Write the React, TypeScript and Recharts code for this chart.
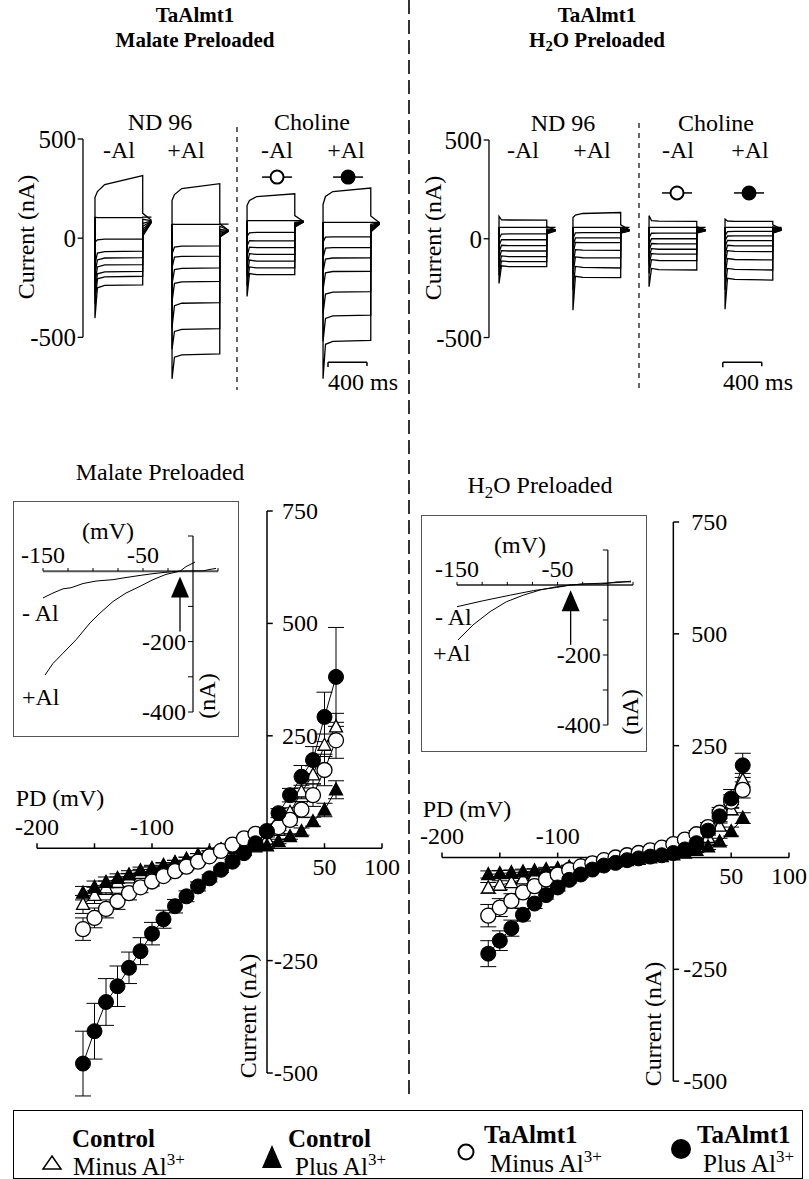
import React from "react";
import {
  LineChart,
  Line,
  ScatterChart,
  Scatter,
  XAxis,
  YAxis,
  ErrorBar,
  ReferenceLine,
  ReferenceDot,
} from "recharts";

const FONT = '"Liberation Serif", "Times New Roman", Times, serif';

// ---------- I/V curves (mV -> nA) ----------
const voltages = [-160, -150, -140, -130, -120, -110, -100, -90, -80, -70, -60, -50, -40, -30, -20, -10, 0, 10, 20, 30, 40, 50, 60];

// malate preloaded
const malCtrlMinus = [-125, -105, -88, -76, -66, -56, -48, -40, -33, -25, -17, -10, -3, 3, 8, 12, 20, 40, 80, 125, 163, 229, 270];
const malCtrlMinusErr = [20, 18, 15, 12, 10, 9, 8, 7, 6, 5, 5, 4, 4, 4, 4, 4, 5, 8, 10, 15, 20, 25, 30];
const malCtrlPlus = [-100, -87, -76, -67, -59, -50, -45, -38, -32, -25, -16, -10, -5, -1, 2, 3, 5, 15, 26, 37, 59, 85, 130];
const malCtrlPlusErr = [15, 14, 12, 10, 9, 8, 7, 6, 5, 5, 4, 4, 4, 4, 4, 4, 4, 5, 6, 8, 10, 15, 20];
const malAlmtMinus = [-180, -155, -135, -118, -100, -87, -74, -62, -51, -41, -30, -18, -6, 8, 22, 32, 38, 47, 63, 86, 118, 174, 240];
const malAlmtMinusErr = [25, 22, 20, 18, 15, 12, 10, 8, 7, 6, 5, 5, 4, 4, 4, 4, 5, 8, 12, 18, 25, 35, 40];
const malAlmtPlus = [-479, -407, -342, -307, -266, -229, -190, -158, -129, -107, -85, -67, -48, -30, -11, 11, 37, 78, 118, 159, 196, 292, 381];
const malAlmtPlusErr = [72, 62, 52, 45, 35, 30, 25, 20, 15, 12, 10, 8, 6, 5, 5, 5, 6, 10, 15, 25, 30, 55, 110];

// H2O preloaded
const h2oCtrlMinus = [-68, -62, -56, -48, -40, -33, -27, -22, -17, -13, -9, -5, -2, 1, 4, 8, 12, 20, 30, 45, 70, 107, 173];
const h2oCtrlMinusErr = [12, 10, 9, 8, 7, 6, 5, 5, 4, 4, 4, 4, 4, 4, 4, 4, 4, 5, 6, 8, 10, 12, 15];
const h2oCtrlPlus = [-38, -36, -34, -32, -30, -27, -25, -22, -19, -16, -13, -10, -7, -4, -1, 2, 6, 10, 16, 24, 35, 58, 88];
const h2oCtrlPlusErr = [8, 7, 6, 6, 5, 5, 4, 4, 4, 4, 4, 4, 4, 4, 4, 4, 4, 4, 5, 6, 8, 10, 12];
const h2oAlmtMinus = [-130, -112, -97, -78, -64, -49, -38, -28, -20, -13, -6, 0, 5, 10, 16, 22, 30, 40, 52, 68, 100, 125, 151];
const h2oAlmtMinusErr = [25, 20, 16, 13, 10, 8, 7, 6, 5, 5, 4, 4, 4, 4, 4, 4, 5, 6, 8, 10, 12, 15, 18];
const h2oAlmtPlus = [-215, -186, -158, -128, -103, -84, -67, -50, -38, -27, -18, -12, -6, -2, 2, 5, 10, 18, 32, 60, 92, 132, 206];
const h2oAlmtPlusErr = [29, 22, 18, 14, 11, 9, 8, 7, 6, 5, 5, 4, 4, 4, 4, 4, 5, 6, 8, 10, 15, 20, 27];

const ivXTicks = [-200, -150, -100, -50, 50, 100];
const ivXLabels = [-200, -100, 50, 100];
const ivYTicks = [750, 500, 250, -250, -500];

// ---------- inset I/V traces ----------
const leftInsetMinusV = [-150, -140, -130, -122, -110, -97, -80, -67, -53, -40, -27, -13, 0, 10, 17, 23];
const leftInsetMinusI = [-76, -62, -50, -47, -35, -28, -24, -18, -12, -7, -3, 0, 1, 1, 5, 8];
const leftInsetPlusV = [-148, -140, -130, -117, -103, -93, -80, -67, -53, -40, -27, -13, -7, 2];
const leftInsetPlusI = [-295, -262, -233, -195, -147, -119, -86, -62, -43, -24, -9, 0, 13, 26];
const rightInsetMinusV = [-150, -124, -97, -74, -51, -37, -24, -7, 0, 9, 23];
const rightInsetMinusI = [-62, -45, -29, -16, -7, 0, 3, 3, 5, 9, 9];
const rightInsetPlusV = [-149, -134, -117, -101, -84, -67, -51, -37, -24, -7, 10, 23];
const rightInsetPlusI = [-157, -114, -76, -48, -29, -14, -5, 0, 3, 5, 7, 11];

const insetXTicks = [-150, -125, -100, -75, -50, -25, 25];
const insetXLabels = [-150, -50];
const insetYTicks = [100, -100, -200, -300, -400];
const insetYLabels = [-200, -400];

// ---------- current traces (nA at 0, 25, 100, 490 ms of each step) ----------
const traceTimes = [0, 25, 100, 490];
const tailTime = 580;
const traceYTicks = [500, 0, -500];

const malateStarts = [123, 914, 1684, 2464];
const malateHolds = [106, 71, 88, 80];
const malNd96Minus = [
  [205, 235, 270, 315], [106, 104, 104, 104], [-20, -8, -5, -5], [-130, -75, -68, -65], [-180, -110, -100, -98],
  [-230, -145, -135, -133], [-280, -180, -170, -167], [-330, -205, -195, -192], [-403, -250, -238, -235],
];
const malNd96MinusTails = [[125, 90], [106, 106], [95, 88], [75, 86], [60, 85], [45, 84], [32, 83], [20, 82], [10, 80]];
const malNd96Plus = [
  [190, 220, 250, 275], [71, 70, 70, 70], [-80, -45, -40, -39], [-150, -95, -92, -90], [-230, -158, -152, -150],
  [-320, -228, -220, -218], [-450, -340, -328, -325], [-560, -470, -460, -456], [-709, -600, -588, -583],
];
const malNd96PlusTails = [[72, 40], [71, 71], [60, 40], [45, 38], [35, 37], [25, 36], [18, 36], [10, 35], [5, 35]];
const malChoMinus = [
  [165, 190, 210, 224], [88, 88, 88, 88], [10, 27, 29, 29], [-40, -12, -14, -14], [-90, -45, -48, -48],
  [-140, -78, -82, -82], [-190, -110, -116, -116], [-240, -145, -150, -150], [-294, -178, -184, -184],
];
const malChoMinusTails = [[114, 84], [88, 88], [80, 84], [75, 83], [70, 83], [65, 82], [62, 82], [58, 82], [56, 82]];
const malChoPlus = [
  [170, 210, 235, 253], [80, 80, 80, 80], [-20, 5, 7, 7], [-100, -50, -48, -48], [-170, -105, -100, -99],
  [-260, -175, -168, -167], [-380, -282, -272, -269], [-520, -405, -392, -388], [-709, -535, -520, -515],
];
const malChoPlusTails = [[112, 78], [80, 80], [70, 77], [62, 76], [55, 75], [48, 74], [42, 73], [36, 72], [31, 70]];

const h2oStarts = [103, 862, 1643, 2423];
const h2oHolds = [58, 58, 58, 58];
const h2oNd96Minus = [
  [114, 96, 95, 94], [58, 58, 58, 58], [0, 24, 25, 25], [-35, -4, -5, -5], [-70, -33, -35, -35],
  [-105, -60, -62, -62], [-145, -87, -90, -90], [-185, -112, -116, -116], [-226, -137, -141, -141],
];
const h2oNd96MinusTails = [[61, 45], [58, 58], [50, 45], [45, 44], [40, 43], [35, 42], [30, 41], [28, 40], [25, 40]];
const h2oNd96Plus = [
  [107, 120, 128, 133], [58, 58, 58, 58], [0, 30, 31, 31], [-40, 4, 5, 5], [-80, -18, -20, -20],
  [-130, -55, -58, -59], [-180, -92, -96, -97], [-260, -140, -145, -148], [-362, -190, -195, -197],
];
const h2oNd96PlusTails = [[70, 45], [58, 58], [55, 45], [50, 44], [45, 43], [40, 42], [35, 41], [30, 40], [28, 40]];
const h2oChoMinus = [
  [117, 92, 89, 88], [58, 58, 58, 58], [5, 28, 29, 29], [-30, 0, 0, 0], [-60, -24, -26, -26],
  [-95, -50, -53, -53], [-130, -75, -78, -78], [-175, -106, -110, -111], [-243, -150, -156, -158],
];
const h2oChoMinusTails = [[62, 45], [58, 58], [55, 45], [50, 44], [45, 43], [40, 42], [36, 41], [32, 40], [28, 40]];
const h2oChoPlus = [
  [100, 90, 88, 88], [58, 58, 58, 58], [15, 36, 37, 37], [-10, 14, 15, 15], [-40, -8, -9, -9],
  [-80, -33, -36, -36], [-130, -60, -64, -65], [-190, -100, -105, -107], [-260, -150, -155, -158], [-357, -200, -206, -209],
];
const h2oChoPlusTails = [[70, 50], [58, 58], [60, 50], [55, 49], [50, 48], [45, 47], [40, 46], [35, 45], [30, 44], [28, 44]];

// choline symbols over the traces and the 400 ms scale bar
const malateMarkers = [{ t: 1992, i: 308, filled: false }, { t: 2721, i: 308, filled: true }];
const h2oMarkers = [{ t: 1930, i: 232, filled: false }, { t: 2669, i: 232, filled: true }];
const malateBar = [2515, 2915];
const h2oBar = [2400, 2800];

// ---------- helpers ----------
function ivRows(ys: number[], es: number[]) {
  return voltages.map((v, k) => ({ v, i: ys[k], e: es[k] }));
}

function curveRows(vs: number[], is: number[]) {
  return vs.map((v, k) => ({ v, i: is[k] }));
}

function traceRows(start: number, hold: number, vals: number[], tail: number[]) {
  const rows = [{ t: start, i: hold }];
  traceTimes.forEach((dt, k) => rows.push({ t: start + dt, i: vals[k] }));
  rows.push({ t: start + traceTimes[traceTimes.length - 1], i: tail[0] });
  rows.push({ t: start + tailTime, i: tail[1] });
  return rows;
}

const openTri = (p: any) => (
  <polygon points={`${p.cx},${p.cy - 7} ${p.cx + 6.5},${p.cy + 5} ${p.cx - 6.5},${p.cy + 5}`} fill="#fff" stroke="#000" strokeWidth={1.3} />
);
const fillTri = (p: any) => (
  <polygon points={`${p.cx},${p.cy - 7} ${p.cx + 6.5},${p.cy + 5} ${p.cx - 6.5},${p.cy + 5}`} fill="#000" stroke="#000" strokeWidth={1.3} />
);
const openCirc = (p: any) => <circle cx={p.cx} cy={p.cy} r={7.5} fill="#fff" stroke="#000" strokeWidth={1.3} />;
const fillCirc = (p: any) => <circle cx={p.cx} cy={p.cy} r={7.5} fill="#000" stroke="#000" strokeWidth={1} />;

function Txt({ x, y, children, size = 24, bold = false, anchor = "center", rotate = 0 }: any) {
  const tx = anchor === "center" ? "-50%" : anchor === "end" ? "-100%" : "0";
  return (
    <div
      style={{
        position: "absolute",
        left: x,
        top: y,
        transform: `translate(${tx}, -50%) rotate(${rotate}deg)`,
        fontSize: size,
        fontWeight: bold ? 700 : 400,
        whiteSpace: "nowrap",
        lineHeight: 1,
      }}
    >
      {children}
    </div>
  );
}

const tickText = (label: string | number, dx: number, dy: number, anchor: string, size: number) => (p: any) => (
  <text x={p.cx + dx} y={p.cy + dy} textAnchor={anchor} fontSize={size} fontFamily={FONT} fill="#000">
    {label}
  </text>
);

function ivAxisParts(yLabelDx: number) {
  const parts: React.ReactElement[] = [
    <ReferenceLine key="xa" y={0} stroke="#000" strokeWidth={1.5} />,
    <ReferenceLine key="ya" segment={[{ x: 0, y: -500 }, { x: 0, y: 750 }]} stroke="#000" strokeWidth={1.5} />,
  ];
  ivXTicks.forEach((v) =>
    parts.push(<ReferenceLine key={`xt${v}`} segment={[{ x: v, y: 0 }, { x: v, y: 11 }]} stroke="#000" strokeWidth={1.5} />)
  );
  ivYTicks.forEach((v) =>
    parts.push(<ReferenceLine key={`yt${v}`} segment={[{ x: 0, y: v }, { x: 5, y: v }]} stroke="#000" strokeWidth={1.5} />)
  );
  ivXLabels.forEach((v) =>
    parts.push(
      <ReferenceDot key={`xl${v}`} x={v} y={0} r={1} shape={tickText(v, 0, v < 0 ? -13 : 27, "middle", 24)} />
    )
  );
  ivYTicks.forEach((v) =>
    parts.push(<ReferenceDot key={`yl${v}`} x={0} y={v} r={1} shape={tickText(v, yLabelDx, 8, "end", 24)} />)
  );
  return parts;
}

function IvChart({ left, top, width, height, margin, yLabelDx, sets }: any) {
  return (
    <div style={{ position: "absolute", left, top }}>
      <ScatterChart width={width} height={height} margin={margin}>
        <XAxis type="number" dataKey="v" domain={[-200, 100]} hide />
        <YAxis type="number" dataKey="i" domain={[-560, 750]} hide />
        {ivAxisParts(yLabelDx)}
        {sets.map((s: any) => (
          <Scatter
            key={s.name}
            name={s.name}
            data={s.data}
            shape={s.shape}
            line={{ stroke: "#000", strokeWidth: 1 }}
            isAnimationActive={false}
          >
            <ErrorBar dataKey="e" direction="y" width={8} stroke="#000" strokeWidth={1} />
          </Scatter>
        ))}
      </ScatterChart>
    </div>
  );
}

function insetParts(arrowV: number) {
  const parts: React.ReactElement[] = [
    <ReferenceLine key="xa" y={0} stroke="#555" strokeWidth={2} />,
    <ReferenceLine key="ya" x={0} stroke="#000" strokeWidth={1.2} />,
  ];
  insetXTicks.forEach((v) =>
    parts.push(<ReferenceLine key={`xt${v}`} segment={[{ x: v, y: 0 }, { x: v, y: 9 }]} stroke="#000" strokeWidth={1} />)
  );
  insetYTicks.forEach((v) =>
    parts.push(<ReferenceLine key={`yt${v}`} segment={[{ x: -5, y: v }, { x: 0, y: v }]} stroke="#000" strokeWidth={1} />)
  );
  insetXLabels.forEach((v) =>
    parts.push(<ReferenceDot key={`xl${v}`} x={v} y={0} r={1} shape={tickText(v, 0, -8, "middle", 24)} />)
  );
  insetYLabels.forEach((v) =>
    parts.push(<ReferenceDot key={`yl${v}`} x={0} y={v} r={1} shape={tickText(v, -7, 8, "end", 24)} />)
  );
  parts.push(
    <ReferenceLine key="shaft" segment={[{ x: arrowV, y: -171 }, { x: arrowV, y: -60 }]} stroke="#000" strokeWidth={1.3} />
  );
  parts.push(
    <ReferenceDot
      key="head"
      x={arrowV}
      y={-15}
      r={1}
      shape={(p: any) => <polygon points={`${p.cx},${p.cy} ${p.cx + 9},${p.cy + 21} ${p.cx - 9},${p.cy + 21}`} fill="#000" />}
    />
  );
  return parts;
}

function Inset({ left, top, width, height, margin, minus, plus, arrowV }: any) {
  return (
    <>
      <div
        style={{
          position: "absolute",
          left,
          top,
          width,
          height,
          border: "1.5px solid #555",
          boxSizing: "border-box",
          background: "#fff",
        }}
      />
      <div style={{ position: "absolute", left, top }}>
        <LineChart width={width} height={height} margin={margin}>
          <XAxis type="number" dataKey="v" domain={[-150, 25]} hide />
          <YAxis type="number" domain={[-400, 100]} hide />
          {insetParts(arrowV)}
          <Line data={minus} dataKey="i" dot={false} stroke="#000" strokeWidth={1} isAnimationActive={false} />
          <Line data={plus} dataKey="i" dot={false} stroke="#000" strokeWidth={1} isAnimationActive={false} />
        </LineChart>
      </div>
    </>
  );
}

function TracePanel({ left, width, marginLeft, marginRight, starts, holds, groups, tails, markers, bar }: any) {
  const parts: React.ReactElement[] = [
    <ReferenceLine key="ya" segment={[{ x: 0, y: -500 }, { x: 0, y: 500 }]} stroke="#000" strokeWidth={1.3} />,
  ];
  traceYTicks.forEach((v) => {
    parts.push(<ReferenceLine key={`yt${v}`} segment={[{ x: -55, y: v }, { x: 0, y: v }]} stroke="#000" strokeWidth={1.3} />);
    parts.push(<ReferenceDot key={`yl${v}`} x={0} y={v} r={1} shape={tickText(v, -7, 9, "end", 25)} />);
  });
  parts.push(<ReferenceLine key="bar" segment={[{ x: bar[0], y: -625 }, { x: bar[1], y: -625 }]} stroke="#000" strokeWidth={1.5} />);
  parts.push(<ReferenceLine key="bar0" segment={[{ x: bar[0], y: -625 }, { x: bar[0], y: -650 }]} stroke="#000" strokeWidth={1.5} />);
  parts.push(<ReferenceLine key="bar1" segment={[{ x: bar[1], y: -625 }, { x: bar[1], y: -645 }]} stroke="#000" strokeWidth={1.5} />);
  markers.forEach((m: any, k: number) =>
    parts.push(
      <ReferenceDot
        key={`m${k}`}
        x={m.t}
        y={m.i}
        r={1}
        shape={(p: any) => (
          <g>
            <line x1={p.cx - 15} x2={p.cx + 15} y1={p.cy} y2={p.cy} stroke="#000" strokeWidth={1.5} />
            <circle cx={p.cx} cy={p.cy} r={6.5} fill={m.filled ? "#000" : "#fff"} stroke="#000" strokeWidth={2} />
          </g>
        )}
      />
    )
  );
  const lines: React.ReactElement[] = [];
  groups.forEach((g: number[][], gi: number) =>
    g.forEach((vals, k) =>
      lines.push(
        <Line
          key={`g${gi}t${k}`}
          data={traceRows(starts[gi], holds[gi], vals, tails[gi][k])}
          dataKey="i"
          type="linear"
          dot={false}
          activeDot={false}
          stroke="#000"
          strokeWidth={1.3}
          isAnimationActive={false}
        />
      )
    )
  );
  return (
    <div style={{ position: "absolute", left, top: 90 }}>
      <LineChart width={width} height={300} margin={{ top: left === 0 ? 49 : 50, right: marginRight, bottom: 10, left: marginLeft }}>
        <XAxis type="number" dataKey="t" domain={[-200, 3100]} hide />
        <YAxis type="number" domain={[-715, 500]} hide />
        {parts}
        {lines}
      </LineChart>
    </div>
  );
}

export default function App() {
  const Al3 = (
    <>
      Al<sup style={{ fontSize: "0.68em", verticalAlign: "0.55em", lineHeight: 0 }}>3+</sup>
    </>
  );
  return (
    <div
      style={{
        position: "absolute",
        left: 0,
        top: 0,
        width: 809,
        height: 1179,
        background: "#fff",
        fontFamily: FONT,
        color: "#000",
        overflow: "hidden",
      }}
    >
      <svg width={809} height={1179} style={{ position: "absolute", left: 0, top: 0 }}>
        <line x1={409} y1={0} x2={409} y2={1098} stroke="#333" strokeWidth={2} strokeDasharray="14 6" />
        <line x1={237} y1={127} x2={237} y2={390} stroke="#333" strokeWidth={1.5} strokeDasharray="5 5" />
        <line x1={639} y1={123} x2={639} y2={390} stroke="#333" strokeWidth={1.5} strokeDasharray="5 5" />
      </svg>

      {/* top: titles and current traces */}
      <Txt x={195} y={15} size={21} bold>TaAlmt1</Txt>
      <Txt x={195} y={40} size={21} bold>Malate Preloaded</Txt>
      <Txt x={597} y={15} size={21} bold>TaAlmt1</Txt>
      <Txt x={597} y={40} size={21} bold>
        H<sub style={{ fontSize: "0.7em", verticalAlign: "-0.3em", lineHeight: 0 }}>2</sub>O Preloaded
      </Txt>

      <Txt x={160} y={122}>ND 96</Txt>
      <Txt x={312} y={122}>Choline</Txt>
      <Txt x={119} y={150}>-Al</Txt>
      <Txt x={186} y={150}>+Al</Txt>
      <Txt x={277} y={150}>-Al</Txt>
      <Txt x={346} y={150}>+Al</Txt>
      <Txt x={563} y={123}>ND 96</Txt>
      <Txt x={716} y={123}>Choline</Txt>
      <Txt x={523} y={150}>-Al</Txt>
      <Txt x={592} y={150}>+Al</Txt>
      <Txt x={678} y={150}>-Al</Txt>
      <Txt x={750} y={150}>+Al</Txt>
      <Txt x={26} y={237} rotate={-90}>Current (nA)</Txt>
      <Txt x={433} y={238} rotate={-90}>Current (nA)</Txt>

      <TracePanel
        left={0}
        width={400}
        marginLeft={63.5}
        marginRight={15}
        starts={malateStarts}
        holds={malateHolds}
        groups={[malNd96Minus, malNd96Plus, malChoMinus, malChoPlus]}
        tails={[malNd96MinusTails, malNd96PlusTails, malChoMinusTails, malChoPlusTails]}
        markers={malateMarkers}
        bar={malateBar}
      />
      <TracePanel
        left={400}
        width={409}
        marginLeft={69.5}
        marginRight={18}
        starts={h2oStarts}
        holds={h2oHolds}
        groups={[h2oNd96Minus, h2oNd96Plus, h2oChoMinus, h2oChoPlus]}
        tails={[h2oNd96MinusTails, h2oNd96PlusTails, h2oChoMinusTails, h2oChoPlusTails]}
        markers={h2oMarkers}
        bar={h2oBar}
      />
      <Txt x={328} y={382} anchor="start">400 ms</Txt>
      <Txt x={723} y={382} anchor="start">400 ms</Txt>

      {/* bottom: I/V curves */}
      <Txt x={160} y={472}>Malate Preloaded</Txt>
      <Txt x={540} y={485}>
        H<sub style={{ fontSize: "0.7em", verticalAlign: "-0.3em", lineHeight: 0 }}>2</sub>O Preloaded
      </Txt>

      <IvChart
        left={0}
        top={490}
        width={400}
        height={620}
        margin={{ top: 21, right: 18, bottom: 10, left: 37 }}
        yLabelDx={51}
        sets={[
          { name: "Control Minus Al", data: ivRows(malCtrlMinus, malCtrlMinusErr), shape: openTri },
          { name: "Control Plus Al", data: ivRows(malCtrlPlus, malCtrlPlusErr), shape: fillTri },
          { name: "TaAlmt1 Minus Al", data: ivRows(malAlmtMinus, malAlmtMinusErr), shape: openCirc },
          { name: "TaAlmt1 Plus Al", data: ivRows(malAlmtPlus, malAlmtPlusErr), shape: fillCirc },
        ]}
      />
      <IvChart
        left={400}
        top={500}
        width={409}
        height={618}
        margin={{ top: 22, right: 20, bottom: 10, left: 42 }}
        yLabelDx={54}
        sets={[
          { name: "Control Minus Al", data: ivRows(h2oCtrlMinus, h2oCtrlMinusErr), shape: openTri },
          { name: "Control Plus Al", data: ivRows(h2oCtrlPlus, h2oCtrlPlusErr), shape: fillTri },
          { name: "TaAlmt1 Minus Al", data: ivRows(h2oAlmtMinus, h2oAlmtMinusErr), shape: openCirc },
          { name: "TaAlmt1 Plus Al", data: ivRows(h2oAlmtPlus, h2oAlmtPlusErr), shape: fillCirc },
        ]}
      />
      <Txt x={60} y={798}>PD (mV)</Txt>
      <Txt x={467} y={809}>PD (mV)</Txt>
      <Txt x={248} y={1016} rotate={-90}>Current (nA)</Txt>
      <Txt x={653} y={1024} rotate={-90}>Current (nA)</Txt>

      <Inset
        left={13}
        top={501}
        width={226}
        height={236}
        margin={{ top: 35, right: 21, bottom: 25, left: 30 }}
        minus={curveRows(leftInsetMinusV, leftInsetMinusI)}
        plus={curveRows(leftInsetPlusV, leftInsetPlusI)}
        arrowV={-13}
      />
      <Txt x={108} y={531}>(mV)</Txt>
      <Txt x={207} y={696} rotate={-90}>(nA)</Txt>
      <Txt x={22} y={613} anchor="start">- Al</Txt>
      <Txt x={22} y={697} anchor="start">+Al</Txt>

      <Inset
        left={421}
        top={515}
        width={226}
        height={237}
        margin={{ top: 35, right: 14, bottom: 27, left: 36 }}
        minus={curveRows(rightInsetMinusV, rightInsetMinusI)}
        plus={curveRows(rightInsetPlusV, rightInsetPlusI)}
        arrowV={-37}
      />
      <Txt x={520} y={545}>(mV)</Txt>
      <Txt x={630} y={712} rotate={-90}>(nA)</Txt>
      <Txt x={435} y={617} anchor="start">- Al</Txt>
      <Txt x={433} y={653} anchor="start">+Al</Txt>

      {/* legend */}
      <div
        style={{
          position: "absolute",
          left: 13,
          top: 1110,
          width: 790,
          height: 69,
          border: "1.5px solid #000",
          boxSizing: "border-box",
        }}
      />
      <svg width={809} height={1179} style={{ position: "absolute", left: 0, top: 0 }}>
        <polygon points="52,1156 61,1169 43,1169" fill="#fff" stroke="#000" strokeWidth={1.5} />
        <polygon points="272,1145 282,1168 262,1168" fill="#000" />
        <circle cx={466} cy={1152} r={7.5} fill="#fff" stroke="#000" strokeWidth={2} />
        <circle cx={681} cy={1149} r={10} fill="#000" />
      </svg>
      <Txt x={72} y={1138} size={25} bold anchor="start">Control</Txt>
      <Txt x={73} y={1166} size={25} anchor="start">Minus {Al3}</Txt>
      <Txt x={288} y={1138} size={25} bold anchor="start">Control</Txt>
      <Txt x={295} y={1166} size={25} anchor="start">Plus {Al3}</Txt>
      <Txt x={484} y={1134} size={25} bold anchor="start">TaAlmt1</Txt>
      <Txt x={490} y={1163} size={25} anchor="start">Minus {Al3}</Txt>
      <Txt x={697} y={1134} size={25} bold anchor="start">TaAlmt1</Txt>
      <Txt x={703} y={1163} size={25} anchor="start">Plus {Al3}</Txt>
    </div>
  );
}
